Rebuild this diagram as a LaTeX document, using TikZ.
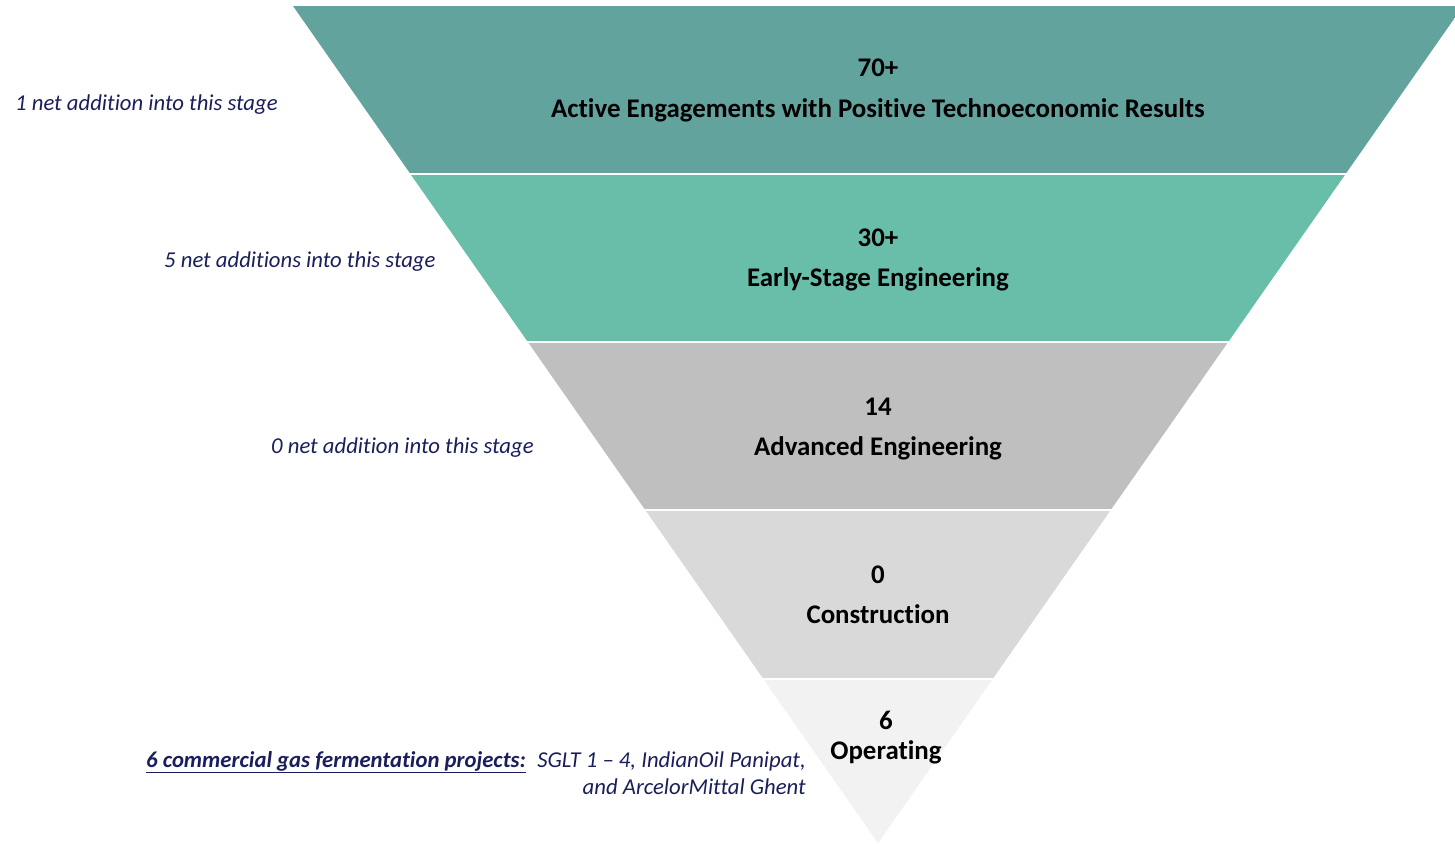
\documentclass[tikz,border=0pt]{standalone}
\usepackage{fontspec}
\setmainfont{Carlito}[Ligatures=NoCommon]
\definecolor{bandA}{HTML}{62A39E}
\definecolor{bandB}{HTML}{69BEAA}
\definecolor{bandC}{HTML}{BFBFBF}
\definecolor{bandD}{HTML}{D9D9D9}
\definecolor{bandE}{HTML}{F2F2F2}
\definecolor{navy}{HTML}{1A1E5C}
\tikzset{
  count/.style={anchor=base, font=\bfseries\fontsize{26.9}{30}\selectfont, text=black, inner sep=0pt},
  stagename/.style={anchor=base, font=\bfseries\fontsize{26.9}{30}\selectfont, text=black, inner sep=0pt},
  note/.style={anchor=base west, font=\itshape\fontsize{22.7}{26}\selectfont, text=navy, inner sep=0pt},
  noteR/.style={anchor=base east, font=\itshape\fontsize{22.7}{26}\selectfont, text=navy, inner sep=0pt},
}
\begin{document}
\begin{tikzpicture}[x=1pt,y=-1pt]
\useasboundingbox (0,0) rectangle (1455,843);
% funnel: one inverted triangle, cut into five bands with thin white gaps
\begin{scope}
  \clip (0,0) rectangle (1455,843);
  \clip (293,6) -- (1463,6) -- (878,843) -- cycle;
  \fill[bandA] (0,6)     rectangle (1455,172.5);
  \fill[bandB] (0,174.5) rectangle (1455,340.5);
  \fill[bandC] (0,342.5) rectangle (1455,509);
  \fill[bandD] (0,511)   rectangle (1455,678);
  \fill[bandE] (0,680)   rectangle (1455,843);
\end{scope}
% stage figures and names
\node[count]     (n1) at (878,77)  {70+};
\node[stagename] (s1) at (878,117) {Active Engagements with Positive Technoeconomic Results};
\node[count]     (n2) at (878,246) {30+};
\node[stagename] (s2) at (878,286) {Early-Stage Engineering};
\node[count]     (n3) at (878,415) {14};
\node[stagename] (s3) at (878,455) {Advanced Engineering};
\node[count]     (n4) at (878,583) {0};
\node[stagename] (s4) at (878,623) {Construction};
\node[count]     (n5) at (886,729) {6};
\node[stagename] (s5) at (886,759) {Operating};
% notes on the left
\node[note] (a1) at (15,110)  {1 net addition into this stage};
\node[note] (a2) at (164,267) {5 net additions into this stage};
\node[note] (a3) at (271,453) {0 net addition into this stage};
\node[note] (p0) at (146,767) {\textbf{\underline{6 commercial gas fermentation projects:}}};
\node[noteR] (p1) at (806,767) {SGLT 1 – 4, IndianOil Panipat,};
\node[noteR] (p2) at (806,794) {and ArcelorMittal Ghent};
\end{tikzpicture}
\end{document}
